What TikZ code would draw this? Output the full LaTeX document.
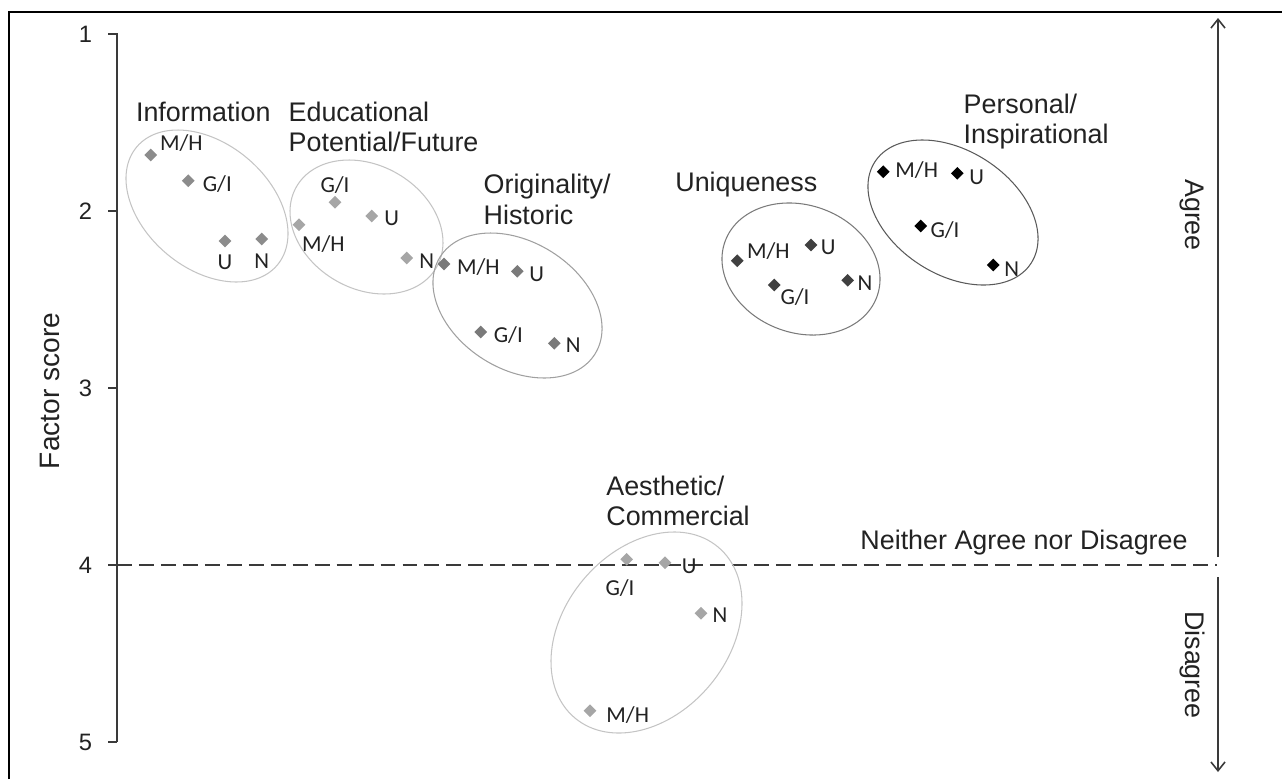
\documentclass[tikz,border=0pt]{standalone}
\usepackage{fontspec}
\setmainfont{Liberation Sans}
\newfontfamily\ptfont{Carlito}
\usetikzlibrary{arrows.meta,shapes.geometric}

\definecolor{txt}{HTML}{222222}
\definecolor{axisgray}{HTML}{3A3A3A}
\definecolor{infodot}{HTML}{8C8C8C}
\definecolor{edudot}{HTML}{A6A6A6}
\definecolor{origdot}{HTML}{7A7A7A}
\definecolor{uniqdot}{HTML}{404040}
\definecolor{persdot}{HTML}{000000}
\definecolor{aesdot}{HTML}{A6A6A6}
\definecolor{lightring}{HTML}{C4C4C4}
\definecolor{midring}{HTML}{A0A0A0}
\definecolor{darkring}{HTML}{7A7A7A}
\definecolor{blackring}{HTML}{5A5A5A}

\begin{document}
\begin{tikzpicture}[x=0.02cm,y=-0.02cm,
  pnt/.style={diamond, fill=#1, inner sep=0pt, minimum size=0.26cm},
  lbl/.style={font=\ptfont\fontsize{13}{15}\selectfont, text=txt, inner sep=0pt, text height=8.4pt, text depth=0pt},
  head/.style={font=\fontsize{15.3}{17}\selectfont, text=txt, inner sep=0pt},
  ring/.style={draw=#1, line width=0.6pt},
  ticklbl/.style={font=\fontsize{13.5}{15}\selectfont, text=txt, inner sep=0pt, text height=9.7pt, text depth=0pt},
  axis/.style={draw=axisgray, line width=1.1pt}]
  \useasboundingbox (0,0) rectangle (1282,779);
  % frame
  \draw[line width=1.4pt] (9,779) -- (9,12) -- (1282,12);
  % factor score axis
  \coordinate (ytop) at (117,33);
  \coordinate (ybot) at (117,742);
  \draw[axis] (ytop) -- (ybot);
  \foreach \v in {1,...,5} {
    \draw[axis] (108,{34+(\v-1)*177}) -- (117,{34+(\v-1)*177});
    \node[ticklbl, anchor=east] (tick\v) at (92.5,{34+(\v-1)*177}) {\v};
  }
  \node[head, font=\fontsize{16}{18}\selectfont, rotate=90] (ylab) at (50,391) {Factor score};
  % neutral line
  \coordinate (nleft) at (117,565);
  \coordinate (nright) at (1217,565);
  \draw[axis, line width=1.3pt, dash pattern=on 8.5pt off 4pt] (nleft) -- (nright);
  \node[head, anchor=base east] (neutral) at (1188,549) {Neither Agree nor Disagree};
  % agree / disagree arrows
  \coordinate (amid) at (1218,557);
  \coordinate (atop) at (1218,18);
  \coordinate (dmid) at (1218,577);
  \coordinate (dbot) at (1218,772);
  \draw[axis, line width=0.9pt, -{Straight Barb[length=5pt,width=8pt]}] (amid) -- (atop);
  \draw[axis, line width=0.9pt, -{Straight Barb[length=5pt,width=8pt]}] (dmid) -- (dbot);
  \node[head, rotate=-90] (agree) at (1192,215) {Agree};
  \node[head, rotate=-90] (disagree) at (1192,665) {Disagree};

  % Information
  \draw[ring=lightring, rotate around={-40:(207,206)}] (207,206) ellipse [x radius=91.8, y radius=62.5];
  \node[head, anchor=base] (infohead) at (203.3,121.7) {Information};
  \foreach \nm/\px/\py/\lx/\ly/\t in {MH/150.7/155/181.3/143.3/{M/H}, GI/188.3/180.7/217.3/184/{G/I},
      U/225/241/225/261.7/U, N/261.7/239/261.7/260.7/N} {
    \node[pnt=infodot] (info\nm) at (\px,\py) {};
    \node[lbl] (info\nm-lab) at (\lx,\ly) {\t};
  }

  % Educational Potential/Future
  \draw[ring=lightring, rotate around={-30:(366.5,227)}] (366.5,227) ellipse [x radius=80.8, y radius=61.7];
  \node[head, anchor=base west] (eduhead) at (288.3,121.7) {Educational};
  \node[head, anchor=base west] (eduhead2) at (288.3,151.7) {Potential/Future};
  \foreach \nm/\px/\py/\lx/\ly/\t in {MH/299/224.7/323.3/244/{M/H}, GI/335/202.3/335/185/{G/I},
      U/371.7/216/391.7/218.3/U, N/406.7/258/426.7/260.7/N} {
    \node[pnt=edudot] (edu\nm) at (\px,\py) {};
    \node[lbl] (edu\nm-lab) at (\lx,\ly) {\t};
  }

  % Originality/Historic
  \draw[ring=midring, rotate around={-32:(517.5,305.5)}] (517.5,305.5) ellipse [x radius=91.4, y radius=63.6];
  \node[head, anchor=base west] (orighead) at (483.3,193.5) {Originality/};
  \node[head, anchor=base west] (orighead2) at (483.3,224) {Historic};
  \foreach \nm/\px/\py/\lx/\ly/\t in {MH/444/264/478.3/266.7/{M/H}, GI/480.7/332/508.3/335/{G/I},
      U/517.3/271.3/536.7/274/U, N/554.3/343.3/573.3/345/N} {
    \node[pnt=origdot] (orig\nm) at (\px,\py) {};
    \node[lbl] (orig\nm-lab) at (\lx,\ly) {\t};
  }

  % Uniqueness
  \draw[ring=darkring, rotate around={-20:(801,269)}] (801,269) ellipse [x radius=80.8, y radius=63.8];
  \node[head, anchor=base west] (uniqhead) at (675,191.7) {Uniqueness};
  \foreach \nm/\px/\py/\lx/\ly/\t in {MH/737.3/260.7/768.3/251/{M/H}, GI/774.3/285/795/297.3/{G/I},
      U/811/245/828.3/247.3/U, N/847.7/280.3/865/282.7/N} {
    \node[pnt=uniqdot] (uniq\nm) at (\px,\py) {};
    \node[lbl] (uniq\nm-lab) at (\lx,\ly) {\t};
  }

  % Personal/Inspirational
  \draw[ring=blackring, rotate around={-33:(953,212.5)}] (953,212.5) ellipse [x radius=93.1, y radius=61.8];
  \node[head, anchor=base west] (pershead) at (963.3,113) {Personal/};
  \node[head, anchor=base west] (pershead2) at (963.3,143) {Inspirational};
  \foreach \nm/\px/\py/\lx/\ly/\t in {MH/883.3/171.7/916.7/170/{M/H}, GI/920.7/226/945/230/{G/I},
      U/957.3/173.3/976.7/177.3/U, N/993.3/265/1011.7/269/N} {
    \node[pnt=persdot] (pers\nm) at (\px,\py) {};
    \node[lbl] (pers\nm-lab) at (\lx,\ly) {\t};
  }

  % Aesthetic/Commercial
  \draw[ring=lightring, rotate around={50:(646.5,632.5)}] (646.5,632.5) ellipse [x radius=111.5, y radius=82.4];
  \node[head, anchor=base west] (aeshead) at (606,495) {Aesthetic/};
  \node[head, anchor=base west] (aeshead2) at (606,525) {Commercial};
  \foreach \nm/\px/\py/\lx/\ly/\t in {MH/590/710.7/627.7/715/{M/H}, GI/626.7/559.3/620/588.3/{G/I},
      U/665/562.7/689.3/566/U, N/701/613.3/720/615/N} {
    \node[pnt=aesdot] (aes\nm) at (\px,\py) {};
    \node[lbl] (aes\nm-lab) at (\lx,\ly) {\t};
  }
\end{tikzpicture}
\end{document}
